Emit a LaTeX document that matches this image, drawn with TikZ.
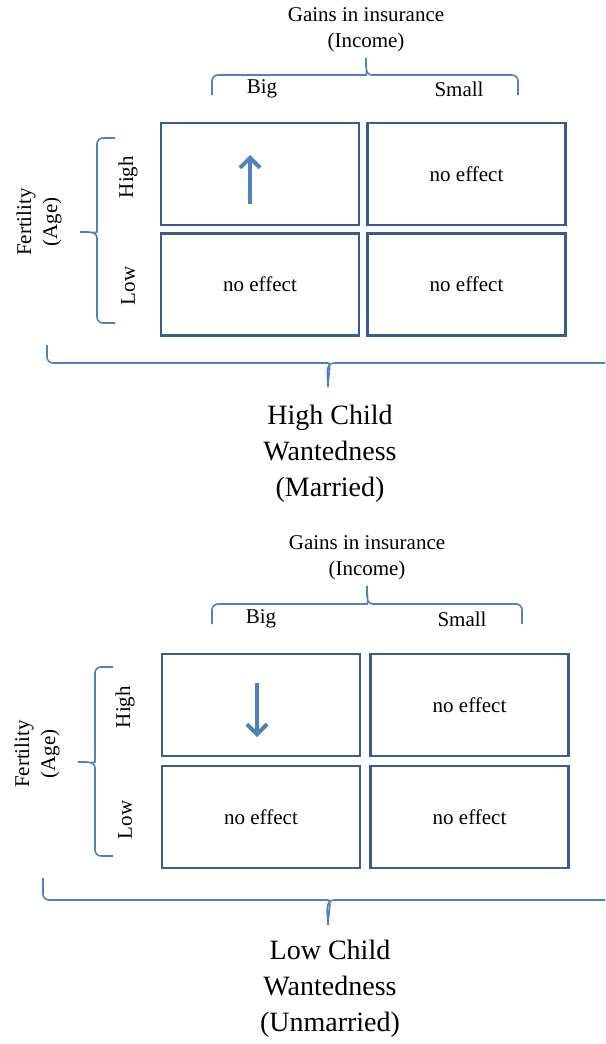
\documentclass[tikz,border=0pt]{standalone}
\usepackage{fontspec}
\setmainfont{Liberation Serif}
\usetikzlibrary{arrows.meta}
\definecolor{cellblue}{HTML}{385D8A}
\definecolor{braceblue}{HTML}{4F81BD}
\begin{document}
\begin{tikzpicture}[x=0.5pt, y=-0.5pt,
		cell/.style={draw=cellblue, line width=1.3pt, minimum width=99pt, minimum height=51pt, font=\fontsize{10.5}{13}\selectfont},
		lbl/.style={font=\fontsize{10.5}{13}\selectfont, align=center},
		sidelbl/.style={lbl, rotate=90},
		caption/.style={font=\fontsize{14}{18}\selectfont, align=center},
		bracket/.style={draw=braceblue, line width=0.8pt},
		trend/.style={draw=braceblue, line width=2pt, -{Straight Barb[length=5pt, width=10pt]}}]
		\useasboundingbox (0,0) rectangle (605,1044);
		% married
		\node[lbl] (m-gains) at (366,30) {Gains in insurance\\(Income)};
		\node[lbl] (m-big) at (262,89) {Big};
		\node[lbl] (m-small) at (459,89) {Small};
		\draw[bracket] (212,95) [rounded corners=3pt] |- (360,75) [sharp corners] to[out=0,in=-90] (366,58) to[out=-90,in=180] (372,75) [rounded corners=3pt] -| (518,95);
		\node[cell] (m-hb) at (260,174) {};
		\node[cell] (m-hs) at (466.5,174) {no effect};
		\node[cell] (m-lb) at (260,284.5) {no effect};
		\node[cell] (m-ls) at (466.5,284.5) {no effect};
		\coordinate (m-up-from) at (250,204);
		\coordinate (m-up-to) at (250,155);
		\draw[trend] (m-up-from) -- (m-up-to);
		\node[sidelbl] (m-high) at (128,177) {High};
		\node[sidelbl] (m-low) at (128,286) {Low};
		\draw[bracket] (115,138) [rounded corners=3pt] -| (97,226) [sharp corners] to[out=-90,in=0] (80,232) to[out=0,in=90] (97,238) [rounded corners=3pt] |- (115,323);
		\node[sidelbl] (m-fert) at (39,222) {Fertility\\(Age)};
		\draw[bracket] (47,345) [rounded corners=3pt] |- (322,363) [sharp corners] to[out=0,in=90] (328,387) to[out=90,in=180] (334,363) -- (605,363);
		\node[caption] (m-want) at (330,454) {High Child\\Wantedness\\(Married)};
		% unmarried
		\node[lbl] (u-gains) at (367,558) {Gains in insurance\\(Income)};
		\node[lbl] (u-big) at (261,619) {Big};
		\node[lbl] (u-small) at (462,619) {Small};
		\draw[bracket] (212,624) [rounded corners=3pt] |- (361,604) [sharp corners] to[out=0,in=-90] (367,586) to[out=-90,in=180] (373,604) [rounded corners=3pt] -| (522,624);
		\node[cell] (u-hb) at (261,705) {};
		\node[cell] (u-hs) at (469.5,705) {no effect};
		\node[cell] (u-lb) at (261,817) {no effect};
		\node[cell] (u-ls) at (469.5,817) {no effect};
		\coordinate (u-down-from) at (257,683);
		\coordinate (u-down-to) at (257,737);
		\draw[trend] (u-down-from) -- (u-down-to);
		\node[sidelbl] (u-high) at (125,707) {High};
		\node[sidelbl] (u-low) at (125,820) {Low};
		\draw[bracket] (113,667) [rounded corners=3pt] -| (95,756) [sharp corners] to[out=-90,in=0] (78,762) to[out=0,in=90] (95,768) [rounded corners=3pt] |- (113,856);
		\node[sidelbl] (u-fert) at (37,754) {Fertility\\(Age)};
		\draw[bracket] (43,878) [rounded corners=3pt] |- (322,900) [sharp corners] to[out=0,in=90] (328,925) to[out=90,in=180] (334,900) -- (605,900);
		\node[caption] (u-want) at (330,989) {Low Child\\Wantedness\\(Unmarried)};
	\end{tikzpicture}
\end{document}
